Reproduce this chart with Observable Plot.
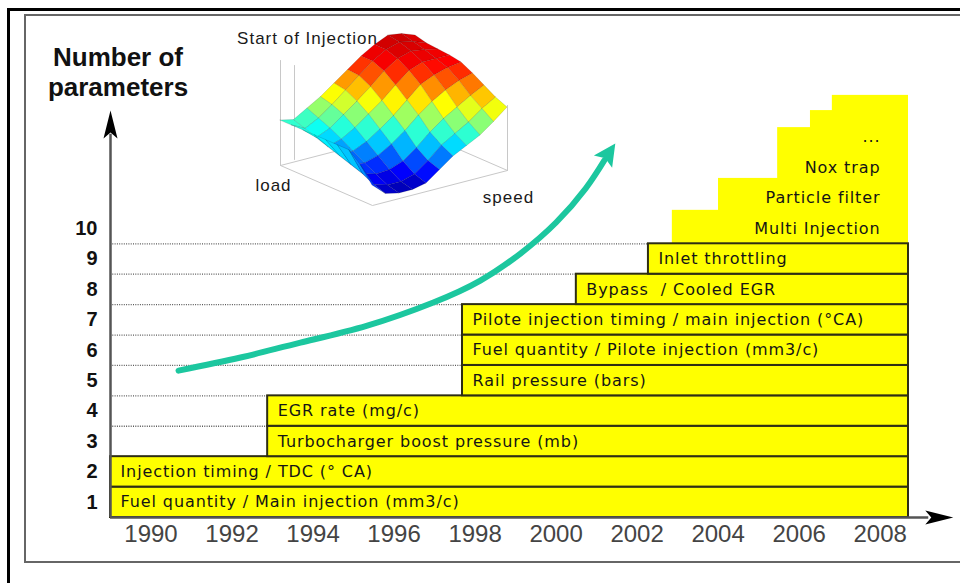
<!DOCTYPE html>
<html>
<head>
<meta charset="utf-8">
<script src="https://cdn.jsdelivr.net/npm/d3@7"></script>
<script src="https://cdn.jsdelivr.net/npm/@observablehq/plot@0.6"></script>
<style>
html,body{margin:0;padding:0;background:#fff;}
#wrap{position:relative;width:960px;height:583px;overflow:hidden;background:#fff;}
#outer{position:absolute;left:7px;top:8px;width:1000px;height:700px;border-left:3px solid #000;border-top:3px solid #000;}
#inner{position:absolute;left:24px;top:14px;width:1000px;height:545px;border:2px solid #666;border-right:none;}
#main{position:absolute;left:0;top:0;}
#inset{position:absolute;left:230px;top:25px;}
#title{position:absolute;left:40px;top:42px;width:156px;text-align:center;font:bold 26px/30px "Liberation Sans",Arial,sans-serif;color:#111;}
[aria-description="bar-labels"] text{letter-spacing:0.9px;}
[aria-description="inset-labels"] text{letter-spacing:1px;}
</style>
</head>
<body>
<div id="wrap">
  <div id="outer"></div>
  <div id="inner"></div>
  <div id="main"></div>
  <div id="inset"></div>
  <div id="title">Number of<br>parameters</div>
</div>
<script>
// ---------- data ----------
const xTickYears = [1990, 1992, 1994, 1996, 1998, 2000, 2002, 2004, 2006, 2008];
const yTickValues = [1, 2, 3, 4, 5, 6, 7, 8, 9, 10];
const gridValues = [1, 2, 3, 4, 5, 6, 7, 8, 9];

const barRows = [1, 2, 3, 4, 5, 6, 7, 8, 9];
const barStartYears = [1989, 1989, 1992.88, 1992.88, 1997.69, 1997.69, 1997.69, 2000.5, 2002.28];
const barEndYear = 2008.7;
const barLabels = [
  "Fuel quantity / Main injection (mm3/c)",
  "Injection timing / TDC (° CA)",
  "Turbocharger boost pressure (mb)",
  "EGR rate (mg/c)",
  "Rail pressure (bars)",
  "Fuel quantity / Pilote injection (mm3/c)",
  "Pilote injection timing / main injection (°CA)",
  "Bypass  / Cooled EGR",
  "Inlet throttling"
];

// future parameters: staircase (start year, top level)
const stepStartYears = [2002.87, 2004.01, 2005.47, 2006.28, 2006.82];
const stepTops = [10.10, 11.15, 12.82, 13.38, 13.88];
const futureLabels = ["Multi Injection", "Particle filter", "Nox trap", "..."];
const futureLevels = [9.5, 10.5, 11.5, 12.5];

// growth arrow (year, level)
const trendYears = [1990.68, 1992.21, 1993.69, 1995.34, 1996.97, 1998.13, 1999.12, 2000.00, 2000.73, 2001.19];
const trendLevels = [4.83, 5.26, 5.75, 6.31, 7.07, 7.79, 8.68, 9.70, 10.82, 11.74];
const trendHead = {year: 2001.31, level: 12.0};

// axis arrows
const axisOriginYear = 1989;
const yAxisTop = 12.6, yArrowLevel = 12.92;
const xAxisEnd = 2009.2, xArrowYear = 2009.46;

// inset: Start of Injection map (heights in px, rows = load, cols = speed)
const socSpeed = [0, 0.1, 0.2, 0.3, 0.4, 0.5, 0.6, 0.7, 0.8, 0.9, 1];
const socLoad = [0, 0.125, 0.25, 0.375, 0.5, 0.625, 0.75, 0.875, 1];
const socHeight = [
  [20,  8,  5,  5,  8, 18, 28, 35, 42, 52, 63],
  [35, 12,  8,  8, 12, 22, 34, 42, 50, 60, 68],
  [45, 18, 14, 15, 20, 30, 42, 52, 60, 68, 75],
  [45, 22, 20, 24, 32, 42, 54, 64, 72, 78, 82],
  [45, 26, 27, 33, 42, 52, 64, 76, 82, 86, 88],
  [45, 30, 34, 42, 52, 62, 74, 85, 90, 90, 90],
  [45, 34, 40, 50, 60, 71, 83, 92, 96, 94, 91],
  [45, 38, 45, 55, 66, 77, 88, 96, 100, 97, 92],
  [45, 42, 50, 58, 68, 78, 88, 96, 102, 100, 95]
];
const insetFloor = {F: [372, 205], R: [507, 170], L: [280, 165]};
const insetTexts = [
  {x: 307, y: 38, text: "Start of Injection"},
  {x: 273, y: 185, text: "load"},
  {x: 508, y: 197, text: "speed"}
];

// ---------- helpers ----------
function arrowSymbol(len, halfW, notch, angleDeg) {
  const a = angleDeg * Math.PI / 180, c = Math.cos(a), s = Math.sin(a);
  const pts = [[0, -len / 2], [halfW, len / 2], [0, len / 2 - notch], [-halfW, len / 2]]
    .map(([x, y]) => [x * c - y * s, x * s + y * c]);
  return {draw(ctx) {
    ctx.moveTo(pts[0][0], pts[0][1]);
    for (let i = 1; i < pts.length; i++) ctx.lineTo(pts[i][0], pts[i][1]);
    ctx.closePath();
  }};
}

const bars = barRows.map((r, i) => ({row: r, start: barStartYears[i], end: barEndYear, label: barLabels[i]}));
const steps = stepStartYears.map((s, i) => ({start: s, end: barEndYear, top: stepTops[i]}));
const future = futureLabels.map((t, i) => ({label: t, level: futureLevels[i]}));
const trend = trendYears.map((y, i) => ({year: y, level: trendLevels[i]}));

const teal = "#1cc79f";

const main = Plot.plot({
  width: 960, height: 583,
  marginLeft: 110, marginRight: 52, marginTop: 0, marginBottom: 66,
  x: {domain: [1989, 2008.7], axis: null},
  y: {domain: [0, 17], axis: null},
  style: {background: "transparent", fontFamily: "Liberation Sans, Arial, sans-serif"},
  marks: [
    Plot.ruleY(gridValues, {x1: axisOriginYear, x2: barEndYear, stroke: "#5a5a5a", strokeWidth: 1.3, strokeDasharray: "1,1.3"}),
    Plot.rect(steps, {x1: "start", x2: "end", y1: 9, y2: "top", fill: "#ffff00"}),
    Plot.rect(bars, {x1: "start", x2: "end", y1: d => d.row - 1, y2: "row", fill: "#ffff00", stroke: "#2e2e14", strokeWidth: 2}),
    Plot.text(bars, {x: "start", y: d => d.row - 0.5, text: "label", textAnchor: "start", dx: 10,
      fontSize: 16, fill: "#151515", fontFamily: "DejaVu Sans, sans-serif", ariaDescription: "bar-labels"}),
    Plot.text(future, {x: barEndYear, y: "level", text: "label", textAnchor: "end", dx: -28,
      fontSize: 16, fill: "#151515", fontFamily: "DejaVu Sans, sans-serif", ariaDescription: "bar-labels"}),
    Plot.ruleX([axisOriginYear], {y1: 0, y2: yAxisTop, stroke: "#555", strokeWidth: 2.5}),
    Plot.ruleY([0], {x1: axisOriginYear, x2: xAxisEnd, stroke: "#555", strokeWidth: 2.5}),
    Plot.dot([{x: axisOriginYear, y: yArrowLevel}], {x: "x", y: "y", symbol: arrowSymbol(28, 7, 6, 0), fill: "#000", stroke: null, r: 5}),
    Plot.dot([{x: xArrowYear, y: 0}], {x: "x", y: "y", symbol: arrowSymbol(28, 7, 6, 90), fill: "#000", stroke: null, r: 5}),
    Plot.text(yTickValues, {x: axisOriginYear, y: d => d - 0.5, text: d => String(d), textAnchor: "end", dx: -13,
      fontSize: 20, fontWeight: "bold", fill: "#111"}),
    Plot.text(xTickYears, {x: d => d, y: 0, dy: 17, text: d => String(d), fontSize: 24, fill: "#444"}),
    Plot.line(trend, {x: "year", y: "level", curve: "natural", stroke: teal, strokeWidth: 6, strokeLinecap: "round"}),
    Plot.dot([trendHead], {x: "year", y: "level", symbol: arrowSymbol(22, 11, 4, 34), fill: teal, stroke: null, r: 5})
  ]
});
document.getElementById("main").appendChild(main);

// ---------- inset surface ----------
const {F, R, L} = insetFloor;
function proj(u, v, z) {
  return [F[0] + u * (R[0] - F[0]) + v * (L[0] - F[0]), F[1] + u * (R[1] - F[1]) + v * (L[1] - F[1]) - z];
}
const quads = [];
for (let i = 0; i < socLoad.length - 1; i++) {
  for (let j = 0; j < socSpeed.length - 1; j++) {
    const u0 = socSpeed[j], u1 = socSpeed[j + 1], v0 = socLoad[i], v1 = socLoad[i + 1];
    const z00 = socHeight[i][j], z10 = socHeight[i][j + 1], z01 = socHeight[i + 1][j], z11 = socHeight[i + 1][j + 1];
    quads.push({
      p00: proj(u0, v0, z00), p10: proj(u1, v0, z10), p01: proj(u0, v1, z01), p11: proj(u1, v1, z11),
      c: (z00 + z10 + z01 + z11) / 4,
      depth: 92 * (u0 + u1) / 2 + 135 * (v0 + v1) / 2
    });
  }
}
quads.sort((a, b) => b.depth - a.depth);
const quadRows = [];
quads.forEach((q, k) => {
  quadRows.push({id: k, x1: q.p00[0], y1: q.p00[1], x2: q.p01[0], y2: q.p01[1], c: q.c});
  quadRows.push({id: k, x1: q.p10[0], y1: q.p10[1], x2: q.p11[0], y2: q.p11[1], c: q.c});
});
const B = [L[0] + R[0] - F[0], L[1] + R[1] - F[1]];
const boxLines = [
  {k: 0, x: L[0], y: L[1]}, {k: 0, x: F[0], y: F[1]}, {k: 0, x: R[0], y: R[1]},
  {k: 1, x: L[0], y: L[1]}, {k: 1, x: L[0], y: L[1] - 105},
  {k: 2, x: R[0], y: R[1]}, {k: 2, x: R[0], y: R[1] - 65},
  {k: 3, x: L[0], y: L[1]}, {k: 3, x: B[0], y: B[1]}, {k: 3, x: R[0], y: R[1]},
  {k: 4, x: L[0] + 14, y: L[1] - 6}, {k: 4, x: L[0] + 14, y: L[1] - 100}
];

const inset = Plot.plot({
  width: 320, height: 195, margin: 0,
  x: {domain: [230, 550], axis: null},
  y: {domain: [220, 25], axis: null},
  color: {type: "linear", domain: [3, 14, 38, 62, 88, 110],
    range: ["#00009a", "#0000ff", "#00ffff", "#ffff00", "#ff0000", "#a00000"]},
  style: {background: "transparent", overflow: "visible", fontFamily: "Liberation Sans, Arial, sans-serif"},
  marks: [
    Plot.line(boxLines, {x: "x", y: "y", z: "k", stroke: "#c8c8c8", strokeWidth: 1}),
    Plot.area(quadRows, {x1: "x1", y1: "y1", x2: "x2", y2: "y2", z: "id", fill: "c", curve: "linear",
      stroke: "#000", strokeOpacity: 0.22, strokeWidth: 0.6}),
    Plot.text(insetTexts, {x: "x", y: "y", text: "text", fontSize: 17, fill: "#1a1a1a", ariaDescription: "inset-labels"})
  ]
});
document.getElementById("inset").appendChild(inset);
</script>
</body>
</html>
